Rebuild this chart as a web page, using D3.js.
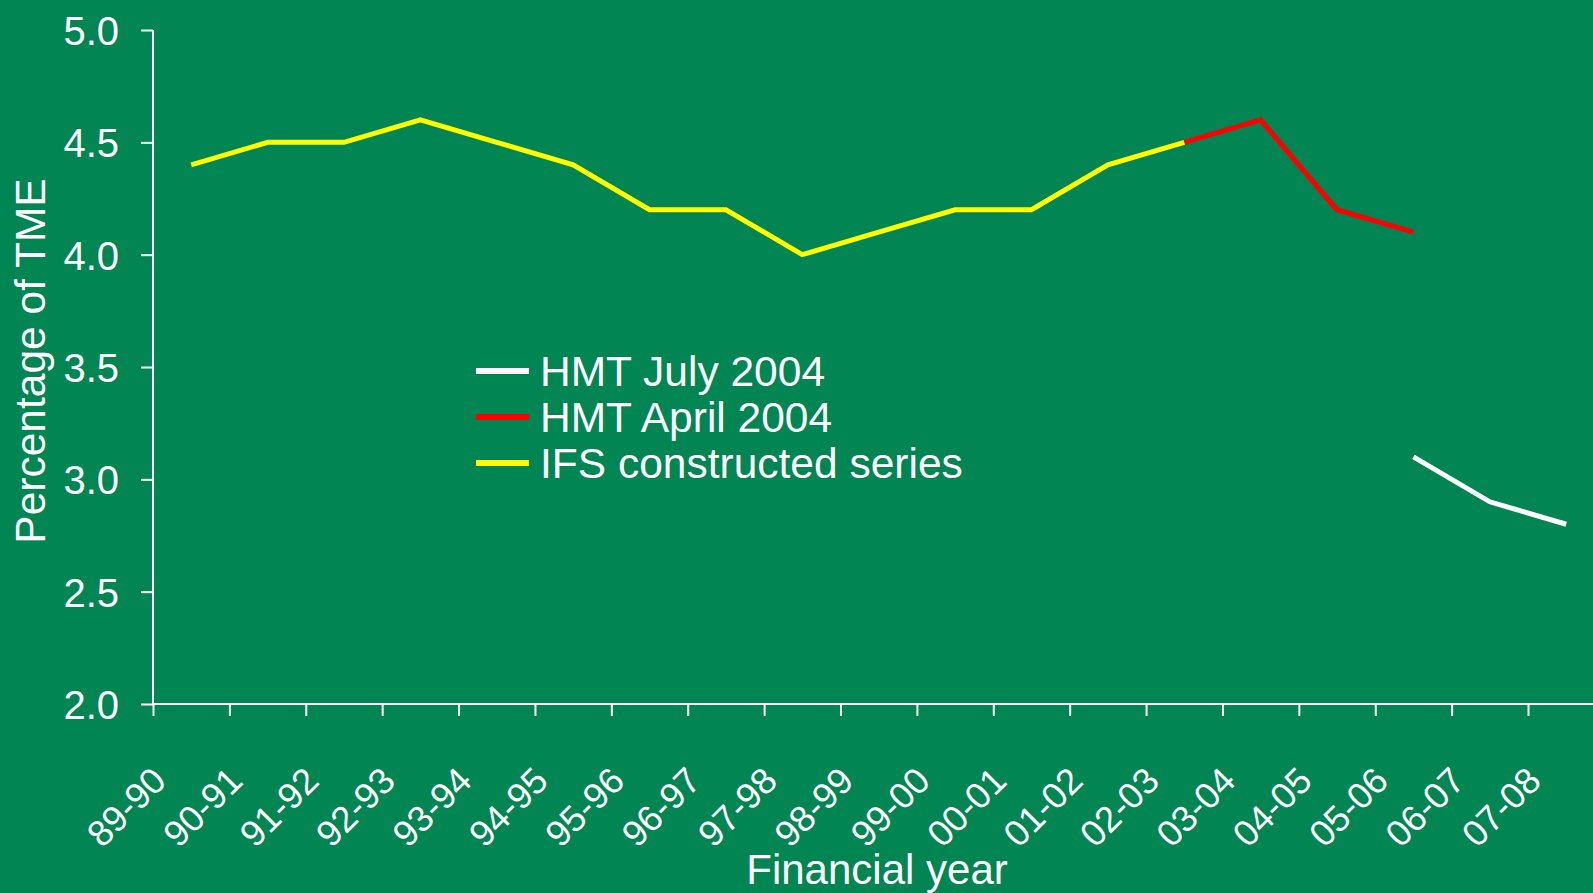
<!DOCTYPE html>
<html>
<head>
<meta charset="utf-8">
<script src="https://cdn.jsdelivr.net/npm/d3@7"></script>
<style>
  body { margin: 0; background: #008553; overflow: hidden; }
  text { font-family: "Liberation Sans", Arial, sans-serif; fill: #fff; }
</style>
</head>
<body>
<div id="chart"></div>
<script>
var years = ["89-90", "90-91", "91-92", "92-93", "93-94", "94-95", "95-96", "96-97", "97-98",
	"98-99", "99-00", "00-01", "01-02", "02-03", "03-04", "04-05", "05-06", "06-07", "07-08"]

// null = no value for that year
var ifsSeries  = [4.4, 4.5, 4.5, 4.6, 4.5, 4.4, 4.2, 4.2, 4.0, 4.1, 4.2, 4.2, 4.4, 4.5, null, null, null, null, null]
var hmtApril   = [null, null, null, null, null, null, null, null, null, null, null, null, null, 4.5, 4.6, 4.2, 4.1, null, null]
var hmtJuly    = [null, null, null, null, null, null, null, null, null, null, null, null, null, null, null, null, 3.1, 2.9, 2.8]

var yTicks = [2.0, 2.5, 3.0, 3.5, 4.0, 4.5, 5.0]

var series = [
	{ name: "HMT July 2004", values: hmtJuly, color: "#ffffff" },
	{ name: "HMT April 2004", values: hmtApril, color: "#ff0000" },
	{ name: "IFS constructed series", values: ifsSeries, color: "#ffff00" }
]

var width = 1593,
	height = 893

var svg = d3.select("#chart")
	.append("svg")
	.attr("width", width)
	.attr("height", height)

svg.append("rect")
	.attr("width", width)
	.attr("height", height)
	.attr("fill", "#008553")

var plotLeft = 153,
	step = 76.39,
	plotTop = 30,
	plotBottom = 704

// plot area runs past the right edge, like the original
var x = d3.scaleLinear().domain([0, years.length]).range([plotLeft, plotLeft + step * years.length])
var y = d3.scaleLinear().domain([2, 5]).range([plotBottom, plotTop])

// y axis
var yAxis = svg.append("g")
	.attr("transform", "translate(" + plotLeft + ",0)")
	.call(d3.axisLeft(y).tickValues(yTicks).tickFormat(d3.format(".1f")).tickSize(12).tickPadding(22))

yAxis.selectAll("text")
	.style("font-size", "40px")
	.attr("dy", "0.36em")
yAxis.selectAll("line, path").attr("stroke", "#fff").attr("stroke-width", 2)
yAxis.select(".domain").attr("d", "M0," + plotTop + "V" + plotBottom)

// x axis, ticks sit between the years
var xAxis = svg.append("g")
	.attr("transform", "translate(0," + plotBottom + ")")
	.call(d3.axisBottom(x).tickValues(d3.range(0, years.length + 1)).tickFormat("").tickSize(12))

xAxis.selectAll("line, path").attr("stroke", "#fff").attr("stroke-width", 2)
xAxis.select(".domain").attr("d", "M" + plotLeft + ",0H" + x(years.length))

svg.append("g")
	.selectAll("text")
	.data(years)
	.enter().append("text")
	.attr("text-anchor", "end")
	.attr("transform", function(d, i) {
		return "translate(" + (x(i + 0.5) - 23) + "," + 783 + ") rotate(-45)"
	})
	.style("font-size", "36.5px")
	.text(function(d) { return d })

// axis titles
svg.append("text")
	.attr("text-anchor", "middle")
	.attr("transform", "translate(45,361) rotate(-90)")
	.style("font-size", "42.5px")
	.text("Percentage of TME")

svg.append("text")
	.attr("text-anchor", "middle")
	.attr("x", 877)
	.attr("y", 884)
	.style("font-size", "42px")
	.text("Financial year")

// lines
var line = d3.line()
	.defined(function(d) { return d != null })
	.x(function(d, i) { return x(i + 0.5) })
	.y(function(d) { return y(d) })

svg.selectAll(".series")
	.data(series)
	.enter().append("path")
	.attr("class", "series")
	.attr("fill", "none")
	.attr("stroke", function(d) { return d.color })
	.attr("stroke-width", 5)
	.attr("stroke-linejoin", "miter")
	.attr("d", function(d) { return line(d.values) })

// legend
var legend = svg.selectAll(".legend")
	.data(series)
	.enter().append("g")
	.attr("class", "legend")
	.attr("transform", function(d, i) {
		return "translate(476," + (371 + i * 46) + ")"
	})

legend.append("line")
	.attr("x1", 0)
	.attr("x2", 53)
	.attr("stroke", function(d) { return d.color })
	.attr("stroke-width", 6)

legend.append("text")
	.attr("x", 64)
	.attr("y", 15)
	.style("font-size", "42.5px")
	.text(function(d) { return d.name })
</script>
</body>
</html>
